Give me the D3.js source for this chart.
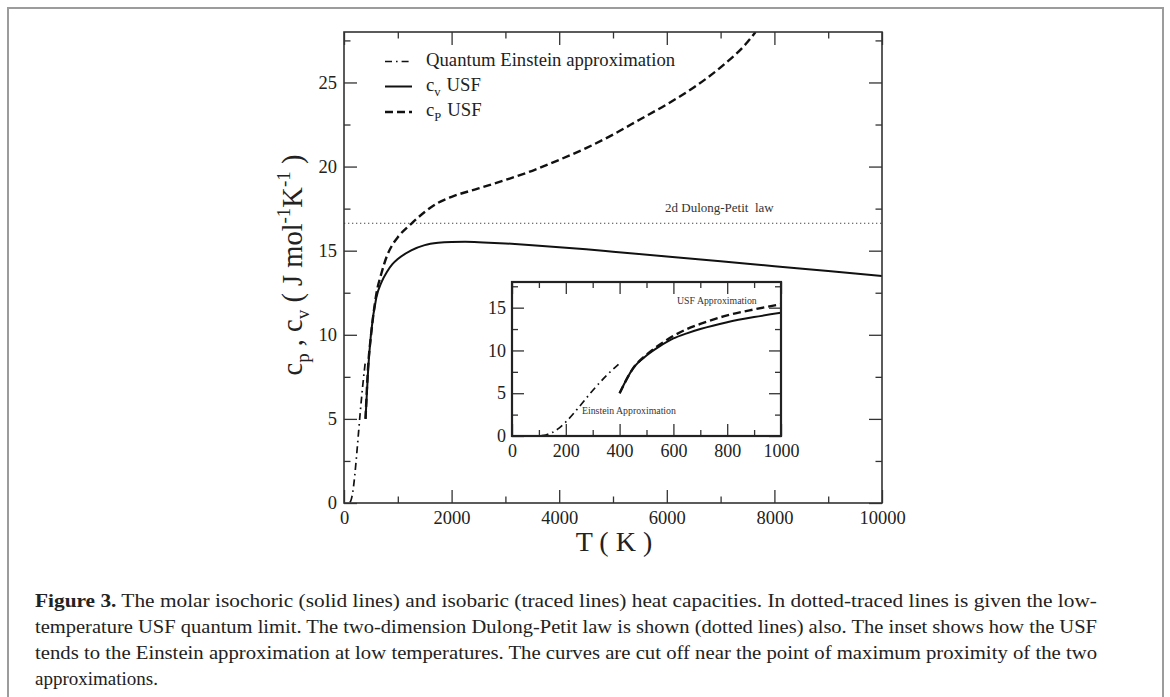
<!DOCTYPE html>
<html><head><meta charset="utf-8">
<script src="https://cdn.jsdelivr.net/npm/d3@7"></script>
<style>
html,body{margin:0;padding:0;background:#fff;}
svg{display:block;font-family:"Liberation Serif","Times New Roman",serif;}
svg text{font-family:"Liberation Serif","Times New Roman",serif;}
</style></head>
<body>
<svg id="chart" width="1170" height="697"></svg>
<script>
// ---------- data ----------
const cvT    = [400, 450, 500, 600, 700, 800, 900, 1000, 1250, 1500, 1750, 2000, 2250, 2500, 3000, 3500, 4000, 4500, 5000, 6000, 7000, 8000, 9000, 10000];
const cvMain = [5.0, 8.0, 10.0, 12.2, 13.15, 13.75, 14.2, 14.5, 15.02, 15.33, 15.47, 15.52, 15.53, 15.5, 15.43, 15.33, 15.21, 15.08, 14.94, 14.66, 14.37, 14.08, 13.79, 13.5];
const cpT    = [400, 450, 500, 600, 700, 800, 900, 1000, 1250, 1500, 1750, 2000, 2500, 3000, 3500, 4000, 4500, 5000, 5500, 6000, 6500, 7000, 7500, 7650];
const cpMain = [5.0, 8.2, 9.9, 12.4, 13.7, 14.7, 15.35, 15.8, 16.6, 17.3, 17.85, 18.2, 18.7, 19.2, 19.75, 20.4, 21.1, 21.9, 22.8, 23.7, 24.7, 25.9, 27.4, 28.0];
const einT   = [110, 125, 150, 175, 200, 250, 300, 350, 400];
const einC   = [0.04, 0.12, 0.41, 0.92, 1.64, 3.42, 5.32, 7.03, 8.5];
const insetT  = [400, 450, 500, 550, 600, 650, 700, 800, 900, 1000];
const cvInset = [5.0, 7.9, 9.4, 10.5, 11.4, 12.0, 12.5, 13.3, 13.9, 14.4];
const cpInset = [5.0, 7.9, 9.5, 10.7, 11.7, 12.5, 13.1, 14.1, 14.8, 15.4];
const dulongPetit = 16.63;

const xTicks = [0, 2000, 4000, 6000, 8000, 10000];
const xMinor = [1000, 3000, 5000, 7000, 9000];
const yTicks = [0, 5, 10, 15, 20, 25];
const yMinor = [2.5, 7.5, 12.5, 17.5, 22.5, 27.5];
const ixTicks = [0, 200, 400, 600, 800, 1000];
const ixMinor = [100, 300, 500, 700, 900];
const iyTicks = [0, 5, 10, 15];
const iyMinor = [2.5, 7.5, 12.5, 17.5];

const legendLabels = ["Quantum Einstein approximation", "c|v| USF", "c|P| USF"];
const captionLines = [
  "The molar isochoric (solid lines) and isobaric (traced lines) heat capacities. In dotted-traced lines is given the low-",
  "temperature USF quantum limit. The two-dimension Dulong-Petit law is shown (dotted lines) also. The inset shows how the USF",
  "tends to the Einstein approximation at low temperatures. The curves are cut off near the point of maximum proximity of the two",
  "approximations."
];

// ---------- drawing ----------
const FONT = '"Liberation Serif","Times New Roman",serif';
const svg = d3.select("#chart");
svg.append("rect").attr("width",1170).attr("height",697).attr("fill","#fff");
svg.append("rect").attr("x",8).attr("y",8).attr("width",1155).attr("height",740)
  .attr("fill","none").attr("stroke","#9c9c9c").attr("stroke-width",2);

const x = d3.scaleLinear().domain([0,10000]).range([344,882]);
const y = d3.scaleLinear().domain([0,28]).range([503,32]);

const styles = {
  solid: {w:2, dash:null},
  dashed:{w:2.4, dash:"8,4"},
  ein:   {w:1.7, dash:"7,4,1.6,4"}
};

function axisSet(g, xs, ys, xt, xm, yt, ym, fs, xpad, ypad, major, minor){
  const [x0,x1] = xs.range(); const [y0,y1] = ys.range();
  g.append("g").attr("transform",`translate(0,${y0})`)
    .call(d3.axisBottom(xs).tickValues(xt).tickSizeInner(-major).tickSizeOuter(0).tickPadding(xpad).tickFormat(d3.format("d")));
  g.append("g").attr("transform",`translate(0,${y0})`)
    .call(d3.axisBottom(xs).tickValues(xm).tickSizeInner(-minor).tickSizeOuter(0).tickFormat(""));
  g.append("g").attr("transform",`translate(0,${y1})`)
    .call(d3.axisTop(xs).tickValues(xt).tickSizeInner(-major).tickSizeOuter(0).tickFormat(""));
  g.append("g").attr("transform",`translate(0,${y1})`)
    .call(d3.axisTop(xs).tickValues(xm).tickSizeInner(-minor).tickSizeOuter(0).tickFormat(""));
  g.append("g").attr("transform",`translate(${x0},0)`)
    .call(d3.axisLeft(ys).tickValues(yt).tickSizeInner(-major).tickSizeOuter(0).tickPadding(ypad).tickFormat(d3.format("d")));
  g.append("g").attr("transform",`translate(${x0},0)`)
    .call(d3.axisLeft(ys).tickValues(ym).tickSizeInner(-minor).tickSizeOuter(0).tickFormat(""));
  g.append("g").attr("transform",`translate(${x1},0)`)
    .call(d3.axisRight(ys).tickValues(yt).tickSizeInner(-major).tickSizeOuter(0).tickFormat(""));
  g.append("g").attr("transform",`translate(${x1},0)`)
    .call(d3.axisRight(ys).tickValues(ym).tickSizeInner(-minor).tickSizeOuter(0).tickFormat(""));
  g.selectAll(".domain").remove();
  g.selectAll("g").attr("font-family",FONT);
  g.selectAll(".tick line").attr("stroke","#333").attr("stroke-width",1.3);
  g.selectAll(".tick text").attr("font-family",FONT).style("font-family",FONT)
    .attr("font-size",fs).attr("fill","#222");
}

function drawLine(g, xs, ys, X, Y, st){
  const pts = X.map((t,i)=>[t,Y[i]]);
  const line = d3.line().x(d=>xs(d[0])).y(d=>ys(d[1])).curve(d3.curveMonotoneX);
  g.append("path").attr("d",line(pts)).attr("fill","none").attr("stroke","#111")
    .attr("stroke-width",st.w).attr("stroke-dasharray",st.dash).attr("stroke-linejoin","round");
}

// main plot
const main = svg.append("g");
svg.append("clipPath").attr("id","mainclip").append("rect")
  .attr("x",344).attr("y",32).attr("width",538).attr("height",471);
const curves = main.append("g").attr("clip-path","url(#mainclip)");

curves.append("line").attr("x1",x(0)).attr("x2",x(10000)).attr("y1",y(dulongPetit)).attr("y2",y(dulongPetit))
  .attr("stroke","#444").attr("stroke-width",1).attr("stroke-dasharray","1.3,2.7");
main.append("text").attr("x",665).attr("y",y(dulongPetit)-11).attr("font-size",13).attr("fill","#333")
  .style("white-space","pre").text("2d Dulong-Petit  law");

drawLine(curves, x, y, einT, einC, styles.ein);
drawLine(curves, x, y, cvT, cvMain, styles.solid);
drawLine(curves, x, y, cpT, cpMain, styles.dashed);

axisSet(main, x, y, xTicks, xMinor, yTicks, yMinor, 18.5, 8, 7, 13, 6.5);
main.append("rect").attr("x",344).attr("y",32).attr("width",538).attr("height",471)
  .attr("fill","none").attr("stroke","#333").attr("stroke-width",1.6);

// legend
const legY = [61.5, 86.5, 112];
const legBase = [66, 90.5, 116];
const legStyles = [styles.ein, styles.solid, styles.dashed];
legendLabels.forEach((lab,i)=>{
  main.append("line").attr("x1",385).attr("x2",412).attr("y1",legY[i]).attr("y2",legY[i])
    .attr("stroke","#111").attr("stroke-width",legStyles[i].w).attr("stroke-dasharray",legStyles[i].dash);
  const t = main.append("text").attr("x",426).attr("y",legBase[i]).attr("font-size",18.7).attr("fill","#222");
  const parts = lab.split("|");
  if(parts.length===1){ t.text(lab); }
  else {
    t.append("tspan").text(parts[0]);
    t.append("tspan").attr("dy",5).attr("font-size",12.5).text(parts[1]);
    t.append("tspan").attr("dy",-5).attr("dx",6).text(parts[2].trim());
  }
});

// axis titles
main.append("text").attr("x",614).attr("y",551).attr("text-anchor","middle").attr("font-size",28).attr("fill","#222").text("T ( K )");
const yl = main.append("text").attr("transform","translate(302,265) rotate(-90)")
  .attr("text-anchor","middle").attr("font-size",28.5).attr("fill","#222");
yl.append("tspan").text("c");
yl.append("tspan").attr("dy",7).attr("font-size",19).text("p");
yl.append("tspan").attr("dy",-7).text(" , c");
yl.append("tspan").attr("dy",7).attr("font-size",19).text("v");
yl.append("tspan").attr("dy",-7).text(" ( J mol");
yl.append("tspan").attr("dy",-12).attr("font-size",19).text("-1");
yl.append("tspan").attr("dy",12).text("K");
yl.append("tspan").attr("dy",-12).attr("font-size",19).text("-1");
yl.append("tspan").attr("dy",12).text(" )");

// inset
const ix = d3.scaleLinear().domain([0,1000]).range([512,781]);
const iy = d3.scaleLinear().domain([0,18]).range([436,282]);
const inset = svg.append("g");
inset.append("rect").attr("x",512).attr("y",282).attr("width",269).attr("height",154).attr("fill","#fff");
drawLine(inset, ix, iy, einT, einC, styles.ein);
drawLine(inset, ix, iy, insetT, cvInset, styles.solid);
drawLine(inset, ix, iy, insetT, cpInset, styles.dashed);
axisSet(inset, ix, iy, ixTicks, ixMinor, iyTicks, iyMinor, 18, 8, 6, 12, 6);
inset.append("rect").attr("x",512).attr("y",282).attr("width",269).attr("height",154)
  .attr("fill","none").attr("stroke","#222").attr("stroke-width",2.2);
inset.append("text").attr("x",677).attr("y",304).attr("font-size",9.8).attr("fill","#333").text("USF Approximation");
inset.append("text").attr("x",582).attr("y",414).attr("font-size",9.8).attr("fill","#333").text("Einstein Approximation");

// caption
const capY = [607, 633, 659, 685];
captionLines.forEach((ln,i)=>{
  const t = svg.append("text").attr("x",35).attr("y",capY[i]).attr("font-size",19).attr("fill","#222")
    .style("white-space","pre");
  if(i<3){ t.attr("textLength",1062).attr("lengthAdjust","spacingAndGlyphs"); }
  if(i===0){
    t.append("tspan").attr("font-weight","bold").text("Figure 3.");
    t.append("tspan").text(" " + ln);
  } else t.text(ln);
});
</script>
</body></html>
